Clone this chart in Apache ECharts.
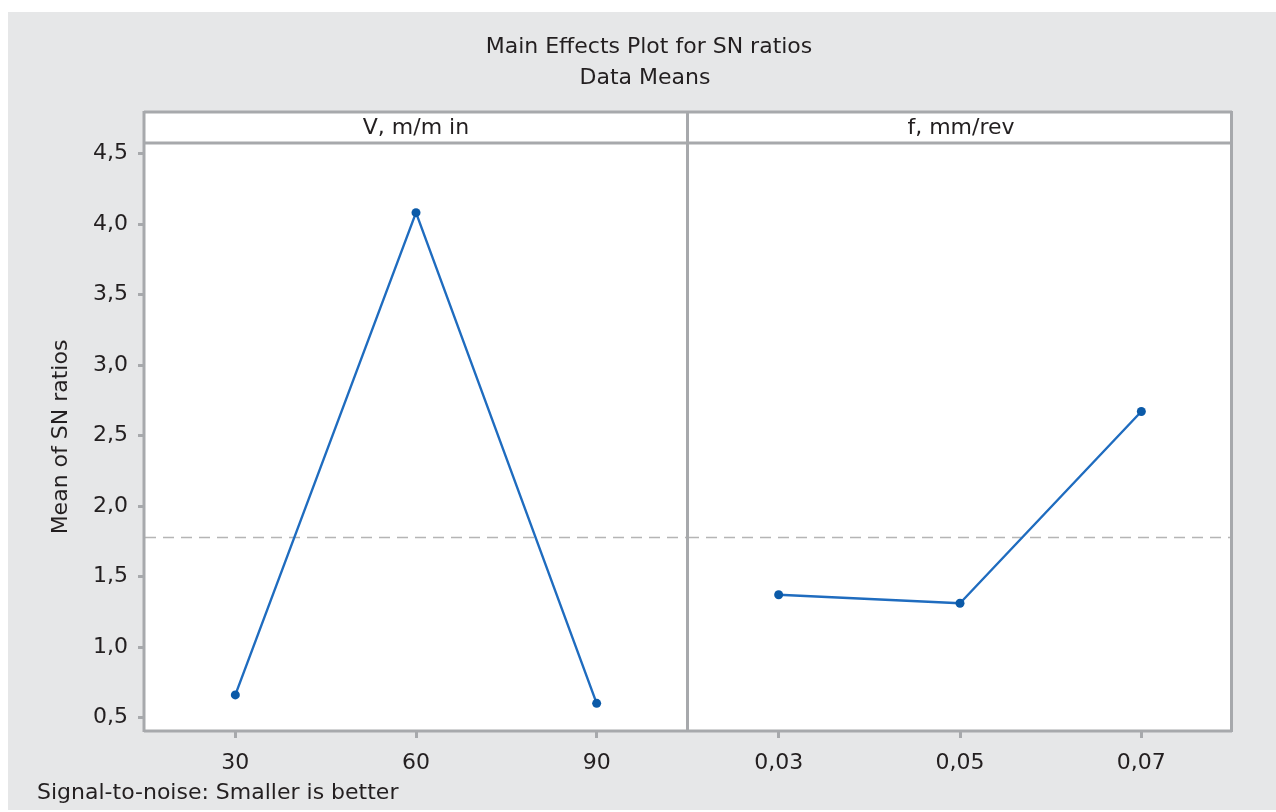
<!DOCTYPE html>
<html><head><meta charset="utf-8">
<script src="https://cdn.jsdelivr.net/npm/echarts@6/dist/echarts.min.js"></script>
<style>html,body{margin:0;padding:0;background:#fff;}#c{width:1276px;height:812px;}</style>
</head><body><div id="c"></div>
<script>
const vCats = ['30', '60', '90'];
const vVals = [0.66, 4.08, 0.60];
const fCats = ['0,03', '0,05', '0,07'];
const fVals = [1.37, 1.31, 2.67];
const meanLine = 1.78;
const yTicks = [0.5, 1.0, 1.5, 2.0, 2.5, 3.0, 3.5, 4.0, 4.5];

const FONT = 'DejaVu Sans';
const TXT = '#231f20';
const FRAME = '#a7a9ac';
const BLUE = '#1f6cbf';

const chart = echarts.init(document.getElementById('c'), null, {renderer: 'canvas'});
const yMin = 0.404, yMax = 4.574;
function yAxisCfg(idx, show) {
  return {
    type: 'value', gridIndex: idx, min: yMin, max: yMax,
    name: show ? 'Mean of SN ratios' : '', nameLocation: 'middle', nameGap: 73, nameRotate: 90,
    nameTextStyle: {fontFamily: FONT, fontSize: 22, color: TXT},
    axisLine: {show: false},
    axisTick: {show: show, customValues: yTicks, length: 7, inside: false, lineStyle: {color: FRAME, width: 3}},
    axisLabel: {show: show, customValues: yTicks, margin: 17, fontFamily: FONT, fontSize: 22, color: TXT,
      formatter: v => v.toFixed(1).replace('.', ',')},
    splitLine: {show: false}
  };
}
function xAxisCfg(idx, cats) {
  return {
    type: 'category', gridIndex: idx, data: cats, boundaryGap: true,
    axisLine: {show: false},
    axisTick: {show: true, alignWithLabel: true, length: 7, lineStyle: {color: FRAME, width: 3}},
    axisLabel: {margin: 21, fontFamily: FONT, fontSize: 22, color: TXT},
    splitLine: {show: false}
  };
}
function seriesCfg(idx, vals) {
  return {
    type: 'line', xAxisIndex: idx, yAxisIndex: idx, data: vals,
    symbol: 'circle', symbolSize: 9,
    lineStyle: {color: BLUE, width: 2.4},
    itemStyle: {color: '#0b5aa8'},
    z: 5,
    markLine: {silent: true, symbol: 'none', label: {show: false},
      lineStyle: {color: '#b5b5b5', type: [11, 7], width: 1.3},
      data: [{yAxis: meanLine}]}
  };
}

chart.setOption({
  animation: false,
  backgroundColor: '#ffffff',
  grid: [
    {left: 145, right: 1276 - 687, top: 143, bottom: 812 - 731},
    {left: 688, right: 1276 - 1232, top: 143, bottom: 812 - 731}
  ],
  xAxis: [xAxisCfg(0, vCats), xAxisCfg(1, fCats)],
  yAxis: [yAxisCfg(0, true), yAxisCfg(1, false)],
  series: [seriesCfg(0, vVals), seriesCfg(1, fVals)],
  graphic: [
    {type: 'rect', z: -10, silent: true, shape: {x: 8, y: 12, width: 1268, height: 798}, style: {fill: '#e6e7e8'}},
    {type: 'rect', z: -9, silent: true, shape: {x: 145, y: 113, width: 1087, height: 617}, style: {fill: '#ffffff'}},
    // frame lines
    {type: 'line', z: 10, silent: true, shape: {x1: 144, y1: 112, x2: 1232, y2: 112}, style: {stroke: FRAME, lineWidth: 3}},
    {type: 'line', z: 10, silent: true, shape: {x1: 144, y1: 143, x2: 1232, y2: 143}, style: {stroke: FRAME, lineWidth: 3}},
    {type: 'line', z: 10, silent: true, shape: {x1: 144, y1: 731, x2: 1232, y2: 731}, style: {stroke: FRAME, lineWidth: 3}},
    {type: 'line', z: 10, silent: true, shape: {x1: 144, y1: 111, x2: 144, y2: 732}, style: {stroke: FRAME, lineWidth: 3}},
    {type: 'line', z: 10, silent: true, shape: {x1: 1231.5, y1: 111, x2: 1231.5, y2: 732}, style: {stroke: FRAME, lineWidth: 3}},
    {type: 'line', z: 10, silent: true, shape: {x1: 687.5, y1: 111, x2: 687.5, y2: 732}, style: {stroke: FRAME, lineWidth: 3}},
    // headers
    {type: 'text', z: 11, style: {text: 'V, m/m in', x: 416, y: 128, align: 'center', verticalAlign: 'middle', fontFamily: FONT, fontSize: 22, fill: TXT}},
    {type: 'text', z: 11, style: {text: 'f, mm/rev', x: 961, y: 128, align: 'center', verticalAlign: 'middle', fontFamily: FONT, fontSize: 22, fill: TXT}},
    // titles
    {type: 'text', z: 11, style: {text: 'Main Effects Plot for SN ratios', x: 649, y: 47, align: 'center', verticalAlign: 'middle', fontFamily: FONT, fontSize: 22, fill: TXT}},
    {type: 'text', z: 11, style: {text: 'Data Means', x: 645, y: 78, align: 'center', verticalAlign: 'middle', fontFamily: FONT, fontSize: 22, fill: TXT}},
    // footnote
    {type: 'text', z: 11, style: {text: 'Signal-to-noise: Smaller is better', x: 37, y: 793, align: 'left', verticalAlign: 'middle', fontFamily: FONT, fontSize: 22, fill: TXT}}
  ]
});
</script></body></html>
